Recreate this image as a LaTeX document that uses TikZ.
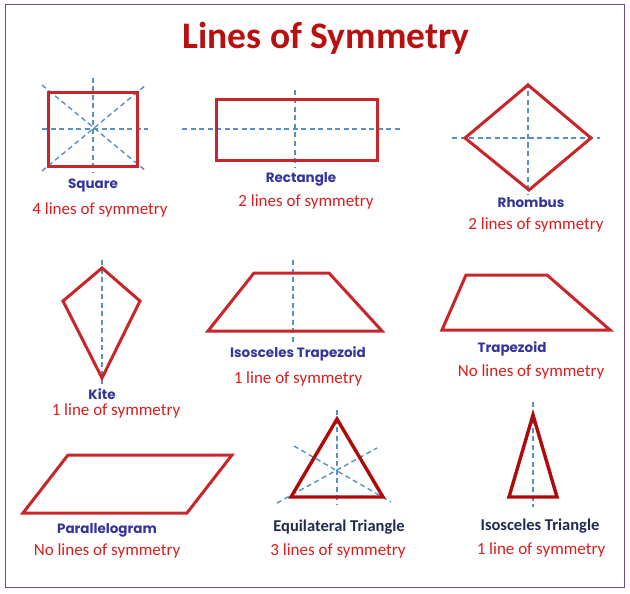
\documentclass[tikz,border=0pt]{standalone}
\usepackage{fontspec}
\setmainfont{Carlito}
\newfontfamily\comicfont{Poppins}
\usepackage{tikz}
\usetikzlibrary{positioning, calc}
\definecolor{titlered}{HTML}{B80F0F}
\definecolor{textred}{HTML}{D81E1E}
\definecolor{shapered}{HTML}{C8262A}
\definecolor{trired}{HTML}{AE0A0A}
\definecolor{axisblue}{HTML}{5590C8}
\definecolor{labelblue}{HTML}{34349A}
\definecolor{navy}{HTML}{1D2B4F}
\definecolor{framepurple}{HTML}{6E4A7E}

\begin{document}
\begin{tikzpicture}[
  x=1pt, y=-1pt,
  every node/.style={inner sep=0pt, align=center},
  outline/.style={draw=shapered, line width=3pt, line join=miter},
  tri/.style={draw=trired, line width=3.4pt, line join=miter},
  axis/.style={draw=axisblue, line width=1.4pt, dash pattern=on 5pt off 3.5pt},
  shapename/.style={font=\comicfont\bfseries\fontsize{13.5}{15}\selectfont, text=labelblue},
  triname/.style={font=\bfseries\fontsize{16.5}{19}\selectfont, text=navy},
  linecount/.style={font=\fontsize{17}{20}\selectfont, text=textred}
]
\useasboundingbox (0,0) rectangle (630,594);
\draw[framepurple, line width=1pt] (5,5) rectangle (624.5,587);

\node[font=\bfseries\fontsize{37.5}{44}\selectfont, text=titlered] (title) at (326,38) {Lines of Symmetry};

% square
\draw[axis] (93,78) -- (93,172);
\draw[axis] (42,129) -- (148,129);
\draw[axis] (42,171) -- (146,85);
\draw[axis] (42,85) -- (146,171);
\draw[outline] (48,93) rectangle (137,166);
\node[shapename] (square) at (93,185) {Square};
\node[linecount] (sqcount) at (100,210) {4 lines of symmetry};

% rectangle
\draw[axis] (295,90) -- (295,167);
\draw[axis] (182,129) -- (400,129);
\draw[outline] (216,100) rectangle (377,160);
\node[shapename] (rect) at (301,179) {Rectangle};
\node[linecount] (rectcount) at (306,202) {2 lines of symmetry};

% rhombus
\draw[axis] (528,83) -- (528,194);
\draw[axis] (452,138) -- (600,138);
\draw[outline] (528,85) -- (591,138) -- (529,190) -- (465,138) -- cycle;
\node[shapename] (rhombus) at (531,203) {Rhombus};
\node[linecount] (rhcount) at (536,225) {2 lines of symmetry};

% kite
\draw[axis] (102,260) -- (102,387);
\draw[outline] (102,268) -- (140,301) -- (102,378) -- (63,301) -- cycle;
\node[shapename] (kite) at (102,394) {Kite};
\node[linecount] (kitecount) at (116,411) {1 line of symmetry};

% isosceles trapezoid
\draw[axis] (293,260) -- (293,342);
\draw[outline] (254,273) -- (329,273) -- (382,331) -- (208,331) -- cycle;
\node[shapename] (isotrap) at (298,354) {Isosceles Trapezoid};
\node[linecount] (isotrapcount) at (298,379) {1 line of symmetry};

% trapezoid
\draw[outline] (466,275) -- (547,275) -- (610,330) -- (442,330) -- cycle;
\node[shapename] (trap) at (512,349) {Trapezoid};
\node[linecount] (trapcount) at (531,372) {No lines of symmetry};

% parallelogram
\draw[outline] (68,455) -- (232,455) -- (187,513) -- (23,513) -- cycle;
\node[shapename] (para) at (107,530) {Parallelogram};
\node[linecount] (paracount) at (107,551) {No lines of symmetry};

% equilateral triangle
\draw[axis] (337,410) -- (337,505);
\draw[axis] (277,503) -- (377,448);
\draw[axis] (294,446) -- (391,502);
\draw[tri] (337,419) -- (383,497) -- (291,497) -- cycle;
\node[triname] (equi) at (339,527) {Equilateral Triangle};
\node[linecount] (equicount) at (338,551) {3 lines of symmetry};

% isosceles triangle
\draw[axis] (533,402) -- (533,507);
\draw[tri] (533,415) -- (557,497) -- (509,497) -- cycle;
\node[triname] (isotri) at (540,526) {Isosceles Triangle};
\node[linecount] (isotricount) at (541,550) {1 line of symmetry};
\end{tikzpicture}
\end{document}
